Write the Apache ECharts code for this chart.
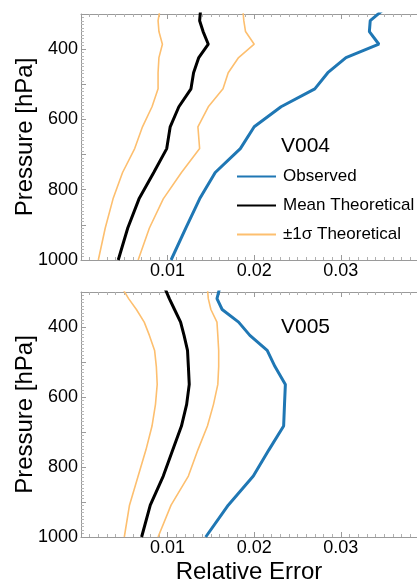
<!DOCTYPE html>
<html>
<head>
<meta charset="utf-8">
<script src="https://cdn.jsdelivr.net/npm/echarts@6/dist/echarts.min.js"></script>
<style>html,body{margin:0;padding:0;background:#fff}#c{width:417px;height:581px}</style>
</head>
<body>
<div id="c"></div>
<script>
// Pressure levels [hPa]
const levels = [290, 319, 350, 386, 424, 467, 513, 564, 621, 683, 751, 826, 909, 1000];

// V004 panel
const v004Observed = [0.0348, 0.0334, 0.0333, 0.0344, 0.0306, 0.0285, 0.0270, 0.0231, 0.0200, 0.0184, 0.0155, 0.0137, 0.0121, 0.0104];
const v004Mean     = [0.0138, 0.0137, 0.0141, 0.0147, 0.0136, 0.0130, 0.0127, 0.0113, 0.0103, 0.0099, 0.0084, 0.0067, 0.0054, 0.0043];
const v004SigLow   = [0.0091, 0.0089, 0.0090, 0.0094, 0.0090, 0.0089, 0.0089, 0.0082, 0.0071, 0.0062, 0.0048, 0.0037, 0.0028, 0.0020];
const v004SigHigh  = [0.0187, 0.0188, 0.0190, 0.0200, 0.0182, 0.0170, 0.0164, 0.0147, 0.0135, 0.0137, 0.0116, 0.0095, 0.0079, 0.0066];

// V005 panel
const v005Observed = [0.0160, 0.0157, 0.0163, 0.0182, 0.0195, 0.0215, 0.0224, 0.0236, 0.0235, 0.0234, 0.0217, 0.0199, 0.0170, 0.0144];
const v005Mean     = [0.0097, 0.0102, 0.0108, 0.0115, 0.0119, 0.0123, 0.0124, 0.0125, 0.0122, 0.0116, 0.0106, 0.0095, 0.0080, 0.0070];
const v005SigLow   = [0.0048, 0.0055, 0.0064, 0.0073, 0.0079, 0.0085, 0.0087, 0.0088, 0.0086, 0.0082, 0.0075, 0.0066, 0.0056, 0.0050];
const v005SigHigh  = [0.0146, 0.0147, 0.0150, 0.0157, 0.0158, 0.0159, 0.0159, 0.0158, 0.0153, 0.0146, 0.0135, 0.0124, 0.0104, 0.0089];

const panelNames = ['V004', 'V005'];
const xTickLabels = ['0.01', '0.02', '0.03'];
const yTickLabels = ['400', '600', '800', '1000'];

const FONT = 'Liberation Sans';
const BLUE = '#1f77b4', BLACK = '#000000', ORANGE = '#fdbf6f';

function pairs(vals) { return vals.map((v, i) => [v, levels[i]]); }

const grids = [
  {left: 81, top: 14, width: 336, height: 246, outerBoundsMode: 'none', containLabel: false},
  {left: 81, top: 292, width: 336, height: 245, outerBoundsMode: 'none', containLabel: false}
];

function xAxes(gi, withName) {
  const common = {
    type: 'value', gridIndex: gi, min: 0, max: 0.0388, interval: 0.01,
    axisLine: {show: true, lineStyle: {color: '#9a9a9a', width: 1}},
    splitLine: {show: false},
    axisTick: {show: true, inside: true, length: 5, lineStyle: {color: '#9a9a9a'}},
    minorTick: {show: true, splitNumber: 10, length: 3, lineStyle: {color: '#b0b0b0'}}
  };
  return [
    Object.assign({}, common, {
      position: 'bottom',
      axisLabel: {
        show: true, color: '#000', fontSize: 18, fontFamily: FONT, margin: 2,
        formatter: v => { const s = v.toFixed(2); return xTickLabels.includes(s) && Math.abs(v - parseFloat(s)) < 1e-9 ? s : ''; }
      },
      name: withName ? 'Relative Error' : '',
      nameLocation: 'middle', nameGap: 23, nameMoveOverlap: false,
      nameTextStyle: {color: '#000', fontSize: 24, fontFamily: FONT}
    }),
    Object.assign({}, common, {position: 'top', axisLabel: {show: false}})
  ];
}

function yAxis(gi) {
  return {
    type: 'value', gridIndex: gi, inverse: true, min: 300, max: 1000, interval: 100,
    axisLine: {show: true, lineStyle: {color: '#9a9a9a', width: 1}},
    splitLine: {show: false},
    axisTick: {show: true, inside: true, length: 5, lineStyle: {color: '#9a9a9a'}},
    minorTick: {show: true, splitNumber: 10, length: 3, lineStyle: {color: '#b8b8b8'}},
    axisLabel: {
      color: '#000', fontSize: 18, fontFamily: FONT, margin: 3,
      formatter: v => yTickLabels.includes(String(v)) ? String(v) : ''
    },
    name: 'Pressure [hPa]', nameLocation: 'middle', nameGap: 44, nameMoveOverlap: false,
    nameTextStyle: {color: '#000', fontSize: 24, fontFamily: FONT}
  };
}

function panelSeries(gi, obs, mean, lo, hi) {
  const base = {type: 'line', xAxisIndex: gi * 2, yAxisIndex: gi, symbol: 'none', showSymbol: false, clip: true, silent: true, animation: false};
  return [
    Object.assign({}, base, {name: '±1σ Theoretical', data: pairs(lo), lineStyle: {color: ORANGE, width: 1.6}, itemStyle: {color: ORANGE}}),
    Object.assign({}, base, {name: '±1σ Theoretical', data: pairs(hi), lineStyle: {color: ORANGE, width: 1.6}, itemStyle: {color: ORANGE}}),
    Object.assign({}, base, {name: 'Mean Theoretical', data: pairs(mean), lineStyle: {color: BLACK, width: 3}, itemStyle: {color: BLACK}}),
    Object.assign({}, base, {name: 'Observed', data: pairs(obs), lineStyle: {color: BLUE, width: 3}, itemStyle: {color: BLUE}})
  ];
}

const chart = echarts.init(document.getElementById('c'), null, {renderer: 'canvas'});
chart.setOption({
  animation: false,
  backgroundColor: '#fff',
  title: [
    {text: panelNames[0], left: 281, top: 136, textStyle: {fontSize: 21, fontWeight: 'normal', color: '#000', fontFamily: FONT}, padding: 0},
    {text: panelNames[1], left: 281, top: 317, textStyle: {fontSize: 21, fontWeight: 'normal', color: '#000', fontFamily: FONT}, padding: 0}
  ],
  legend: {
    orient: 'vertical', left: 236, top: 168, padding: 0,
    itemWidth: 39, itemHeight: 14, itemGap: 12,
    data: ['Observed', 'Mean Theoretical', '±1σ Theoretical'],
    itemStyle: {opacity: 0},
    textStyle: {fontSize: 17, color: '#000', fontFamily: FONT, padding: [0, 0, 0, 2]},
    selectedMode: false
  },
  grid: grids,
  xAxis: [...xAxes(0, false), ...xAxes(1, true)],
  yAxis: [yAxis(0), yAxis(1)],
  series: [
    ...panelSeries(0, v004Observed, v004Mean, v004SigLow, v004SigHigh),
    ...panelSeries(1, v005Observed, v005Mean, v005SigLow, v005SigHigh)
  ]
});
</script>
</body>
</html>
